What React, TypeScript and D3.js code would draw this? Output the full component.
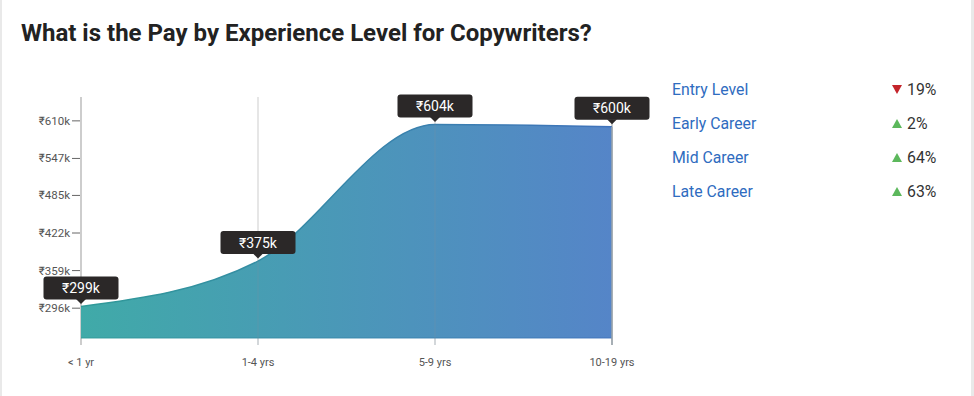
import React from "react";
import * as d3 from "d3";

const categories = ["< 1 yr", "1-4 yrs", "5-9 yrs", "10-19 yrs"];
const values = [299, 375, 604, 600];
const yTicks = [296, 359, 422, 485, 547, 610];
const legendLabels = ["Entry Level", "Early Career", "Mid Career", "Late Career"];
const legendPct = ["19%", "2%", "64%", "63%"];
const legendDir = ["down", "up", "up", "up"];

const W = 974;
const H = 396;

export default function App() {
  const x = d3.scalePoint<string>().domain(categories).range([81, 612]);
  const y = d3.scaleLinear().domain([246, 650]).range([338, 97]);
  const pts = categories.map((c, i) => [x(c) as number, y(values[i])] as [number, number]);
  const area = d3
    .area<[number, number]>()
    .x((d) => d[0])
    .y0(y(246))
    .y1((d) => d[1])
    .curve(d3.curveMonotoneX);
  const line = d3
    .line<[number, number]>()
    .x((d) => d[0])
    .y((d) => d[1])
    .curve(d3.curveMonotoneX);
  const font = "Roboto, 'Noto Sans', sans-serif";
  return (
    <div style={{ position: "fixed", left: 0, top: 0, width: W, height: H }}>
      <svg width={W} height={H} style={{ display: "block", fontFamily: font }}>
        <defs>
          <linearGradient id="g" x1="81" x2="612" y1="0" y2="0" gradientUnits="userSpaceOnUse">
            <stop offset="0" stopColor="#40aaa8" />
            <stop offset="1" stopColor="#5585c8" />
          </linearGradient>
          <linearGradient id="gs" x1="81" x2="612" y1="0" y2="0" gradientUnits="userSpaceOnUse">
            <stop offset="0" stopColor="#2f9a98" />
            <stop offset="1" stopColor="#3f72bb" />
          </linearGradient>
        </defs>
        <rect x={0} y={0} width={W} height={H} fill="#fff" />
        <rect x={0} y={0} width={2} height={H} fill="#e9e9e9" />
        <rect x={971} y={0} width={3} height={H} fill="#e9e9e9" />
        <text x={21} y={41} fontSize={24} fontWeight={700} fill="#222">
          What is the Pay by Experience Level for Copywriters?
        </text>
        {/* vertical grid lines */}
        {categories.map((c, i) => (
          <line
            key={c}
            x1={x(c)}
            x2={x(c)}
            y1={97}
            y2={345}
            stroke={i === 0 || i === 3 ? "#bdbdbd" : "#dedede"}
            strokeWidth={1.5}
          />
        ))}
        <path d={area(pts) || ""} fill="url(#g)" />
        <path d={line(pts) || ""} fill="none" stroke="url(#gs)" strokeWidth={1.5} />
        <line x1={81} x2={612} y1={338} y2={338} stroke="url(#gs)" strokeWidth={1.5} opacity={0.6} />
        {categories.map((c, i) =>
          i === 0 || i === 3 ? null : (
            <line key={"o" + c} x1={x(c)} x2={x(c)} y1={y(values[i])} y2={345} stroke="#7a8fa0" strokeOpacity={0.35} strokeWidth={1} />
          )
        )}
        <line x1={612} x2={612} y1={y(values[3])} y2={345} stroke="#9aa4ad" strokeWidth={1.5} />
        {/* y axis ticks */}
        {yTicks.map((t) => (
          <g key={t}>
            <line x1={72} x2={80} y1={y(t)} y2={y(t)} stroke="#666" strokeWidth={1} />
            <text x={70} y={y(t) + 4} fontSize={11.5} textAnchor="end" fill="#555">
              {"₹" + t + "k"}
            </text>
          </g>
        ))}
        {/* x labels */}
        {categories.map((c) => (
          <text key={"x" + c} x={x(c)} y={366} fontSize={11} textAnchor="middle" fill="#555">
            {c}
          </text>
        ))}
        {/* tooltips */}
        {pts.map((p, i) => {
          const bx = p[0] - 37.5;
          const bb = p[1] - 7;
          return (
            <g key={"t" + i}>
              <rect x={bx} y={bb - 23} width={75} height={23} rx={3} fill="#2b2828" />
              <path d={`M${p[0] - 5},${bb - 0.5} L${p[0] + 5},${bb - 0.5} L${p[0]},${bb + 4.5} Z`} fill="#2b2828" />
              <text x={p[0]} y={bb - 6.5} fontSize={14} textAnchor="middle" fill="#fff">
                {"₹" + values[i] + "k"}
              </text>
            </g>
          );
        })}
        {/* legend */}
        {legendLabels.map((l, i) => {
          const cy = 89 + i * 34;
          return (
            <g key={l}>
              <text x={672} y={cy + 5.5} fontSize={15.8} fill="#2f6cc0">
                {l}
              </text>
              {legendDir[i] === "down" ? (
                <path d={`M892,${cy - 4} L902,${cy - 4} L897,${cy + 5} Z`} fill="#c4242b" />
              ) : (
                <path d={`M892,${cy + 5} L902,${cy + 5} L897,${cy - 4} Z`} fill="#5cb85c" />
              )}
              <text x={907} y={cy + 5.5} fontSize={15.8} fill="#333">
                {legendPct[i]}
              </text>
            </g>
          );
        })}
      </svg>
    </div>
  );
}
